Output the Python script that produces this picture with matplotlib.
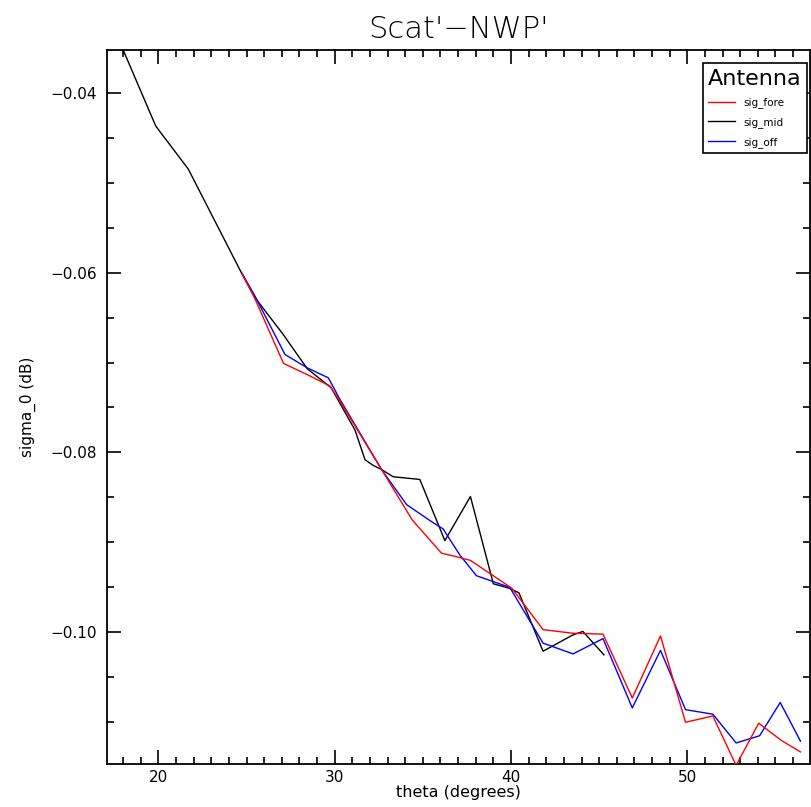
import matplotlib
matplotlib.use("Agg")
import matplotlib.pyplot as plt
from matplotlib.ticker import FixedLocator, MultipleLocator

# Antenna series: incidence angle (deg) vs. sigma_0 difference (dB)
theta_mid = [17.95, 19.85, 21.7, 24.73, 25.45, 27.05, 28.45, 29.8, 31.15, 31.72, 32.15,
             32.66, 33.32, 34.83, 36.25, 37.7, 39.0, 39.9, 40.45, 41.82, 43.5, 44.08, 45.27]
sig_mid = [-0.0350, -0.0437, -0.0485, -0.0601, -0.0627, -0.0668, -0.0707, -0.0728, -0.0775, -0.0808, -0.0814,
           -0.0819, -0.0827, -0.0830, -0.0898, -0.0849, -0.0946, -0.0951, -0.0956, -0.1021, -0.1003, -0.0999, -0.1025]

theta_fore = [24.75, 25.45, 27.1, 28.5, 29.73, 30.3, 32.66, 34.4, 36.06, 36.72, 37.7, 40.05,
              41.82, 43.5, 45.22, 46.88, 48.48, 49.9, 51.45, 52.77, 54.05, 55.32, 56.42]
sig_fore = [-0.0601, -0.0628, -0.0701, -0.0714, -0.0726, -0.0743, -0.0819, -0.0875, -0.0912, -0.0915, -0.0920, -0.0951,
            -0.0997, -0.1001, -0.1002, -0.1073, -0.1004, -0.1100, -0.1093, -0.1148, -0.1101, -0.1120, -0.1133]

theta_off = [24.75, 25.45, 27.18, 28.45, 29.64, 30.3, 32.66, 34.08, 35.5, 36.15, 37.1, 38.04, 39.93,
             41.82, 43.52, 45.22, 46.88, 48.48, 49.9, 51.45, 52.77, 54.1, 55.27, 56.42]
sig_off = [-0.0601, -0.0625, -0.0691, -0.0706, -0.0717, -0.0741, -0.0819, -0.0858, -0.0877, -0.0885, -0.0914, -0.0937, -0.0950,
           -0.1012, -0.1024, -0.1007, -0.1084, -0.1020, -0.1086, -0.1091, -0.1123, -0.1115, -0.1078, -0.1121]

x_ticks = [20, 30, 40, 50]
x_tick_labels = ["20", "30", "40", "50"]
y_ticks = [-0.04, -0.06, -0.08, -0.10]
y_tick_labels = ["\u22120.04", "\u22120.06", "\u22120.08", "\u22120.10"]

plt.rcParams["font.family"] = ["DejaVu Sans"]

W, H = 811, 807
fig = plt.figure(figsize=(W / 100, H / 100), dpi=100)
left, right, top, bottom = 106.7, 810.0, 50.0, 764.0
ax = fig.add_axes([left / W, 1 - bottom / H, (right - left) / W, (bottom - top) / H])

lw = 1.0
ax.plot(theta_fore, sig_fore, color="#ff0000", lw=lw, label="sig_fore", zorder=3)
ax.plot(theta_mid, sig_mid, color="black", lw=lw, label="sig_mid", zorder=2)
ax.plot(theta_off, sig_off, color="#0000ff", lw=lw, label="sig_off", zorder=2.5)

ax.set_xlim(17.07, 56.96)
ax.set_ylim(-0.11464, -0.03525)

ax.xaxis.set_major_locator(FixedLocator(x_ticks))
ax.set_xticklabels(x_tick_labels)
ax.xaxis.set_minor_locator(MultipleLocator(1))
ax.yaxis.set_major_locator(FixedLocator(y_ticks))
ax.set_yticklabels(y_tick_labels)
ax.yaxis.set_minor_locator(MultipleLocator(0.005))

ax.tick_params(which="both", direction="in", top=True, right=True, width=1.2, color="black")
ax.tick_params(which="major", length=10, labelsize=11)
ax.tick_params(axis="x", which="major", pad=4)
ax.tick_params(axis="y", which="major", pad=7)
ax.tick_params(which="minor", length=5)
for s in ax.spines.values():
    s.set_linewidth(1.3)

ax.set_xlabel("theta (degrees)", fontsize=11.5, labelpad=0)
ax.set_ylabel("sigma_0 (dB)", fontsize=11, labelpad=10)
ax.set_title("Scat'\u2212NWP'", fontsize=22, pad=9, fontweight="light", color="black")

leg = ax.legend(loc="upper right", title="Antenna", fontsize=7.5, title_fontsize=16,
                frameon=True, fancybox=False, edgecolor="black", framealpha=1,
                borderaxespad=0.0, handlelength=2.6, handletextpad=0.8,
                labelspacing=0.85, borderpad=0.5)
leg.set_bbox_to_anchor((806.7 / W, 1 - 63.3 / H), transform=fig.transFigure)
leg.get_frame().set_linewidth(1.2)
leg._legend_box.align = "left"

fig.savefig("out.png", dpi=100)
